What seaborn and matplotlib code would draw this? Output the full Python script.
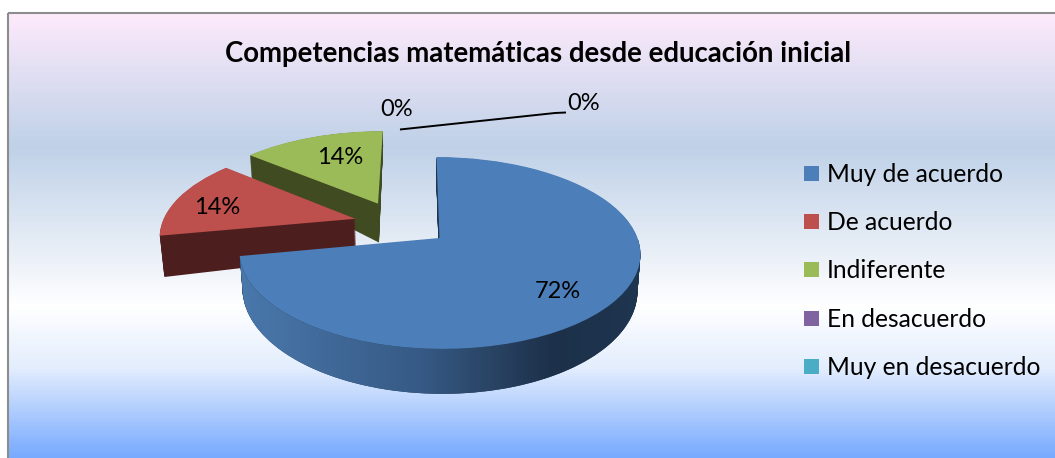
import numpy as np
import matplotlib
matplotlib.use("Agg")
import matplotlib.pyplot as plt
import seaborn as sns
from matplotlib.colors import LinearSegmentedColormap
from matplotlib.patches import Patch, Polygon, Rectangle
from matplotlib.transforms import Transform

# ---- data ----
categories = ["Muy de acuerdo", "De acuerdo", "Indiferente", "En desacuerdo", "Muy en desacuerdo"]
shares = [72, 14, 14, 0, 0]
value_labels = ["72%", "14%", "14%", "0%", "0%"]
title_text = "Competencias matemáticas desde educación inicial"

# ---- style ----
top_colors = ["#4c7eb9", "#bd4f4c", "#9bbb59", "#8064a2", "#4bacc6"]
wall_colors = ["#1f3650", "#4d1e1e", "#404b22", "#3d2f50", "#24525f"]
explode = [0, 0.45, 0.43, 0, 0]
extra_shift = [(0, 0), (0, 0.10), (-0.14, 0), (0, 0), (0, 0)]
depth_rule = [(38, 262, 7 / 88), (36, 219, 6 / 19), (23, 156, 16 / 48), (0, 0, 0), (0, 0, 0)]
CX, CY, RX, RY, K, SHEAR = 439.5, 238.0, 198.0, 93.6, 0.156, 3.0
FONT = "Lato"

sns.set_theme(style="white")
plt.rcParams["font.family"] = [FONT, "DejaVu Sans"]
palette = sns.color_palette(top_colors)


class Tilt(Transform):
    """Maps the flat pie onto the tilted, perspective plane, in pixel units."""
    input_dims = output_dims = 2
    is_separable = False
    has_inverse = False

    def __init__(self, t=0.0, rule=(0, 0, 0), shift=(0, 0)):
        super().__init__()
        self.t, self.rule, self.shift = t, rule, shift

    def transform_non_affine(self, values):
        v = np.asarray(values, float)
        X = v[:, 0] + self.shift[0]
        Y = v[:, 1] + self.shift[1]
        s = 1 / (1 + K * Y)
        x = CX + RX * X * s - SHEAR * Y
        y = CY - RY * Y * s
        a, yref, b = self.rule
        d = self.t * (a + (y - yref) * b)
        x = CX + (x - CX) * (1 - 0.0004 * d)
        return np.column_stack([x, y + d])


fig = plt.figure(figsize=(10.55, 4.58), dpi=100)
fig.patch.set_facecolor("white")
ax = fig.add_axes([0, 0, 1, 1])

# background gradient
bg = LinearSegmentedColormap.from_list(
    "bg",
    [(0.0, "#fdeafb"), (0.30, "#bfd1e8"), (0.66, "#ffffff"), (0.80, "#e3edfd"), (1.0, "#78aaff")],
)
L, T, R, B = 8, 13, 1055, 458
ax.imshow(np.linspace(0, 1, 445)[:, None], cmap=bg, extent=(L, R, B, T), aspect="auto", zorder=0)

# extruded pie: a stack of pies, deepest first, then the top surface
N = 50
for layer in range(N, -1, -1):
    t = layer / N
    wedges, _ = ax.pie(
        shares,
        colors=top_colors if layer == 0 else wall_colors,
        explode=explode,
        startangle=90,
        counterclock=False,
        wedgeprops={"linewidth": 0},
    )
    for i, w in enumerate(wedges):
        w.set_transform(Tilt(t, depth_rule[i], extra_shift[i]) + ax.transData)
        w.set_zorder({0: 7, 1: 5, 2: 3}.get(i, 1) if layer == 0 else {0: 6, 1: 4, 2: 2}.get(i, 1))
        if shares[i] == 0:
            w.set_visible(False)

# shaded rim of the large slice
rim = LinearSegmentedColormap.from_list(
    "rim", [(0.0, "#4a78ac"), (0.25, "#3f6796"), (0.45, "#365a85"), (0.62, "#2a4565"), (0.78, "#1c3049"), (1.0, "#1f3650")]
)
ang = np.radians(np.linspace(191, 362, 200))
ring = np.column_stack([np.cos(ang), np.sin(ang)])
outer = Tilt(1.0, depth_rule[0]).transform_non_affine(ring)
inner = Tilt(0.0, depth_rule[0]).transform_non_affine(ring)
clip = Polygon(np.vstack([inner, outer[::-1]]), closed=True, transform=ax.transData)
rim_im = ax.imshow(np.linspace(0, 1, 400)[None, :], cmap=rim, extent=(240, 642, 400, 240), aspect="auto", zorder=6.5)
rim_im.set_clip_path(clip)

ax.set_aspect("auto")
ax.set_xlim(0, 1055)
ax.set_ylim(458, 0)
ax.axis("off")

# frame (open at the right and bottom, where the picture is cropped)
ax.add_patch(Rectangle((L, T), R - L + 10, B - T + 10, fill=False, ec="#8c8c8c", lw=1.5, zorder=8))

# labels
label_pos = [(558, 291), (217, 207), (340, 157), (397, 109), (584, 103)]
for txt, (x, y) in zip(value_labels, label_pos):
    ax.text(x, y, txt, ha="center", va="center", fontsize=17, color="black", zorder=9)
ax.plot([400, 555, 566], [129.5, 113, 112.5], color="black", lw=1.4, zorder=9, solid_capstyle="butt")

ax.text(538, 54, title_text, ha="center", va="center", fontsize=19.9, fontweight="bold", color="black", zorder=9)

# legend
handles = [Patch(facecolor=c, edgecolor="none") for c in palette]
leg = ax.legend(
    handles, categories, loc="center left", bbox_to_anchor=(804 / 1055, 1 - 271 / 458),
    frameon=False, fontsize=17.7, handlelength=0.61, handleheight=0.56,
    handletextpad=0.33, labelspacing=1.03, borderpad=0, borderaxespad=0,
    labelcolor="black",
)
leg.set_zorder(9)

fig.savefig("out.png", dpi=100, facecolor="white")
